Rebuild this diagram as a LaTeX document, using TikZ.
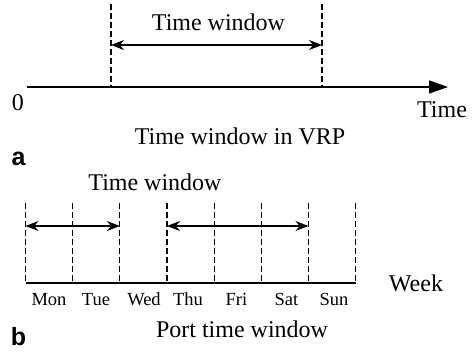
\documentclass[tikz,border=0pt]{standalone}
\usepackage{fontspec}
\setmainfont{Liberation Serif}
\setsansfont{Liberation Sans}
\usetikzlibrary{arrows.meta}
\begin{document}
\begin{tikzpicture}[x=1pt,y=-1pt,
  lbl/.style={inner sep=0,anchor=base,font=\fontsize{24}{28}\selectfont},
  daylbl/.style={inner sep=0,anchor=base,font=\fontsize{18.5}{22}\selectfont},
  tag/.style={inner sep=0,anchor=base,font=\fontsize{25}{29}\selectfont\sffamily\bfseries},
  guide/.style={dash pattern=on 5.5pt off 3.5pt, line width=1.3pt},
  span/.style={{Stealth[length=13pt,width=10pt]}-{Stealth[length=13pt,width=10pt]}, line width=1.2pt},
  axis/.style={-{Triangle[length=19pt,width=13pt]}, line width=1.4pt}]
\useasboundingbox (0,0) rectangle (473,351);

% ---- (a) time window in VRP ----
\coordinate (t0) at (27,87);
\coordinate (tend) at (448,87);
\draw[axis] (t0) -- (tend);
\coordinate (ga-top) at (111,4);  \coordinate (ga-bot) at (111,87);
\coordinate (gb-top) at (322,4);  \coordinate (gb-bot) at (322,87);
\draw[guide] (ga-top) -- (ga-bot);
\draw[guide] (gb-top) -- (gb-bot);
\coordinate (wa) at (111,45); \coordinate (wb) at (322,45);
\draw[span] (wa) -- (wb);
\node[lbl] (twa) at (218.5,30) {Time window};
\node[lbl] (zero) at (18,110) {0};
\node[lbl] (timelbl) at (442,117) {Time};
\node[lbl] (capa) at (240,144) {Time window in VRP};
\node[tag] (taga) at (18.5,165) {a};

% ---- (b) port time window ----
\foreach \i in {0,...,7}{
  \coordinate (d\i-top) at ({25.5+47.17*\i},203);
  \coordinate (d\i-bot) at ({25.5+47.17*\i},283);
  \draw[guide] (d\i-top) -- (d\i-bot);
}
\draw[line width=1.4pt] (d0-bot) -- (d7-bot);
\coordinate (s0) at (25.5,226);  \coordinate (s2) at (119.8,226);
\coordinate (s3) at (167,226);   \coordinate (s6) at (308.5,226);
\draw[span] (s0) -- (s2);
\draw[span] (s3) -- (s6);
\node[lbl] (twb) at (155,190) {Time window};
\node[daylbl] (mon) at (49,305) {Mon};
\node[daylbl] (tue) at (96,305) {Tue};
\node[daylbl] (wed) at (144,305) {Wed};
\node[daylbl] (thu) at (188,305) {Thu};
\node[daylbl] (fri) at (236.5,305) {Fri};
\node[daylbl] (sat) at (286.5,305) {Sat};
\node[daylbl] (sun) at (334,305) {Sun};
\node[lbl] (week) at (416,291) {Week};
\node[lbl] (capb) at (242,337) {Port time window};
\node[tag] (tagb) at (18.5,345) {b};
\end{tikzpicture}
\end{document}
